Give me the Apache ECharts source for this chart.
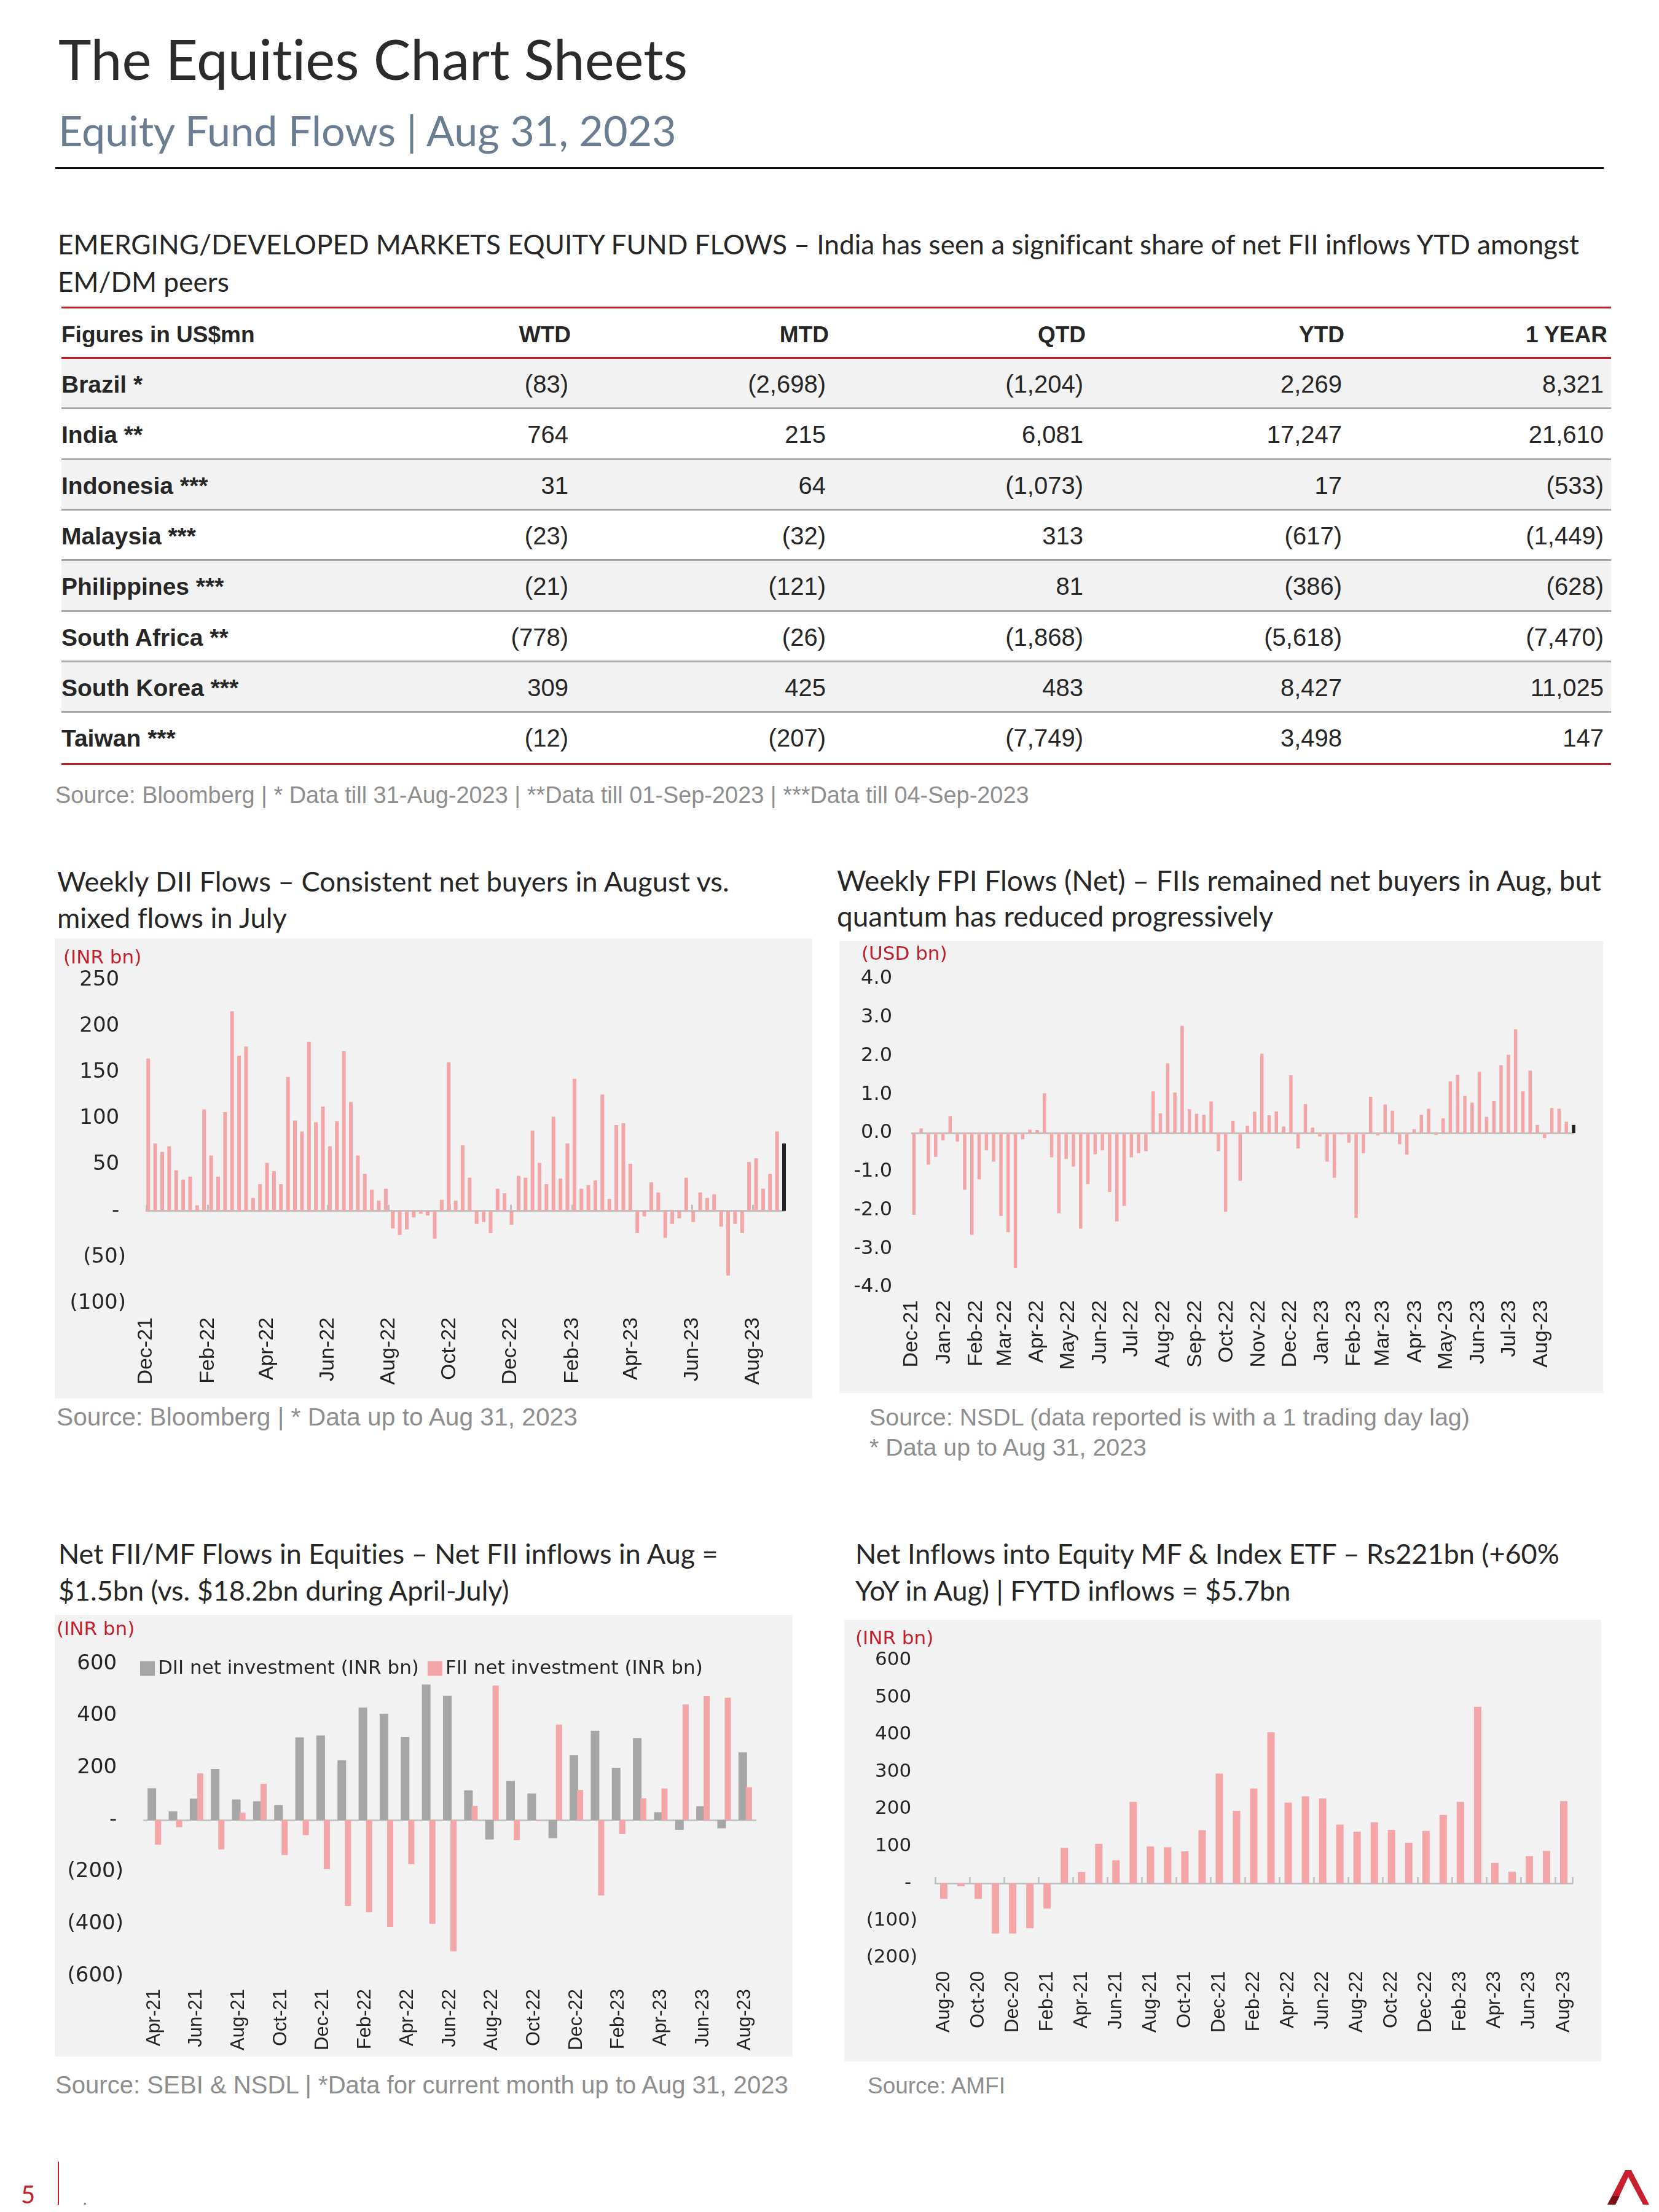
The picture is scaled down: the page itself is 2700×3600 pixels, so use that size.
<!DOCTYPE html>
<html><head><meta charset="utf-8">
<script src="https://cdn.jsdelivr.net/npm/echarts@6/dist/echarts.min.js"></script>
<style>
html,body{margin:0;padding:0;background:#fff;}
#page{position:relative;width:2700px;height:3600px;overflow:hidden;background:#fff;}
.t{position:absolute;white-space:nowrap;line-height:1;margin:0;padding:0;font-variant-ligatures:none;}
.box{position:absolute;}
.chart{position:absolute;background:#F2F2F2;}
</style></head><body><div id="page">
<div class="box" style="left:90px;top:272px;width:2520px;height:3px;background:#111"></div>
<div class="chart" id="c1" style="left:89px;top:1527px;width:1233px;height:749px"></div>
<div class="chart" id="c2" style="left:1366px;top:1531px;width:1243px;height:736px"></div>
<div class="chart" id="c3" style="left:89px;top:2628px;width:1201px;height:719px"></div>
<div class="chart" id="c4" style="left:1374px;top:2636px;width:1232px;height:719px"></div>
<div class="box" style="left:94px;top:3518px;width:2px;height:70px;background:#C41E2A"></div>
<svg style="position:absolute;left:2614px;top:3530px" width="72" height="60" viewBox="0 0 72 60">
<polygon points="2,58 31,2 41,2 70,58 60,58 36,13 15,58" fill="#C8202F"/>
<polygon points="2,58 15,58 22,44 10,44" fill="#7A1018"/>
</svg>
</div>
<script>
// ---------------- DATA ----------------
const tableCountries = ['Brazil *','India **','Indonesia ***','Malaysia ***','Philippines ***','South Africa **','South Korea ***','Taiwan ***'];
const tableColumns = ['WTD','MTD','QTD','YTD','1 YEAR'];
const wtd = [-83, 764, 31, -23, -21, -778, 309, -12];
const mtd = [-2698, 215, 64, -32, -121, -26, 425, -207];
const qtd = [-1204, 6081, -1073, 313, 81, -1868, 483, -7749];
const ytd = [2269, 17247, 17, -617, -386, -5618, 8427, 3498];
const oneYear = [8321, 21610, -533, -1449, -628, -7470, 11025, 147];

// Weekly DII flows (INR bn), weeks from 3-Dec-2021 to 1-Sep-2023
const diiWeekly = [165,73,64,70,44,34,37,6,110,60,37,107,216,168,178,14,29,52,43,29,
  145,98,86,183,96,113,70,97,173,118,60,40,23,11,24,-19,-26,-20,-7,-3,
  -5,-30,12,161,11,71,36,-14,-12,-24,24,19,-15,38,36,87,52,29,102,35,
  73,143,24,28,33,126,13,93,95,51,-24,-6,31,20,-29,-14,-8,36,-12,20,
  14,18,-17,-70,-14,-24,53,57,24,40,86,73];
// Weekly FPI flows (USD bn)
const fpiWeekly = [-2.12,0.12,-0.82,-0.62,-0.19,0.44,-0.22,-1.47,-2.64,-1.20,-0.45,-0.74,-2.15,-2.57,-3.50,-0.16,0.09,0.08,1.03,-0.63,
  -2.08,-0.67,-0.87,-2.48,-1.32,-0.55,-0.45,-1.53,-2.29,-1.89,-0.63,-0.52,-0.47,1.08,0.51,1.81,1.05,2.78,0.62,0.50,
  0.47,0.82,-0.47,-2.04,0.32,-1.24,0.19,0.55,2.06,0.46,0.56,0.17,1.50,-0.40,0.75,0.14,-0.09,-0.74,-1.16,-0.04,
  -0.25,-2.20,-0.52,0.94,-0.06,0.74,0.58,-0.29,-0.56,0.10,0.47,0.63,-0.05,0.38,1.34,1.51,0.96,0.79,1.59,0.42,
  0.83,1.76,2.03,2.69,1.08,1.62,0.21,-0.13,0.65,0.63,0.29,0.21];
// Monthly Apr-21 .. Aug-23 (INR bn)
const diiMonthly = [122,33,82,196,79,72,57,318,325,230,432,408,319,521,478,114,-75,150,102,-70,250,343,201,315,30,-38,53,-32,260];
const fiiMonthly = [-95,-28,179,-113,28,139,-135,-58,-189,-331,-355,-411,-170,-399,-505,54,517,-78,-3,367,115,-290,-54,83,121,444,477,470,126];
// Monthly Aug-20 .. Aug-23 net inflows into equity MF & index ETF (INR bn)
const mfMonthly = [-42,-8,-42,-135,-135,-121,-68,95,30,106,62,219,99,97,86,143,295,195,255,406,217,234,228,158,139,164,144,109,141,184,219,475,55,31,73,87,221];

const MON = ['Jan','Feb','Mar','Apr','May','Jun','Jul','Aug','Sep','Oct','Nov','Dec'];
const DAY = 86400000;
const axisStartDate = new Date(2021, 11, 1);    // axis starts 1-Dec-2021
const axisEndDate = new Date(2023, 8, 1);       // last weekly bar 1-Sep-2023
function dayOffset(d){ return Math.round((d.getTime() - axisStartDate.getTime()) / DAY); }
function monthSeq(y, m, n){ const out=[]; for(let i=0;i<n;i++){ const k=m+i; out.push(MON[k%12]+'-'+String(y+Math.floor(k/12)).slice(2)); } return out; }
function weekSeq(y, m, d, n){ const out=[]; for(let i=0;i<n;i++) out.push(dayOffset(new Date(y, m, d+7*i))); return out; }
function monthStarts(y, m, n, step){ const out=[]; for(let i=0;i<n;i++) out.push(dayOffset(new Date(y, m+i*step, 1))); return out; }

const weeks = weekSeq(2021, 11, 3, 92);              // day offsets of weekly bars
const diiTickDays = monthStarts(2021, 11, 11, 2);    // Dec-21, Feb-22 ... Aug-23
const fpiTickDays = monthStarts(2021, 11, 21, 1);    // Dec-21 ... Aug-23
const fiiMonths = monthSeq(2021, 3, 29);             // Apr-21 ... Aug-23
const mfMonths = monthSeq(2020, 7, 37);              // Aug-20 ... Aug-23
const axisMaxDay = dayOffset(axisEndDate);

// ---------------- STYLE ----------------
const PINK = '#F4A5A8', GREY = '#A6A6A6', DARK = '#222222', RED = '#C41E2A', AXIS = '#BFBFBF';
const page = document.getElementById('page');

function fmtNum(v){ return Math.abs(v).toLocaleString('en-US'); }
function acctTable(v){ return v < 0 ? '(' + fmtNum(v) + ')' : fmtNum(v); }
function acctAxis(v){ if (v === 0) return '-\u2008'; return v < 0 ? '(' + fmtNum(v) + ')' : fmtNum(v) + '\u2008'; }
function monFmt(v){ const d = new Date(axisStartDate.getFullYear(), axisStartDate.getMonth(), axisStartDate.getDate() + Math.round(v)); return MON[d.getMonth()] + '-' + String(d.getFullYear()).slice(2); }

function placeText(spec){
  const size0 = spec.size || 100;
  const els = spec.lines.map(function(line){
    const d = document.createElement('div');
    d.className = 't';
    d.style.fontFamily = spec.family;
    d.style.fontWeight = spec.weight || 400;
    d.style.color = spec.color;
    d.style.fontSize = size0 + 'px';
    d.textContent = line;
    if (spec.right != null) d.style.right = (2700 - spec.right) + 'px'; else d.style.left = spec.x + 'px';
    d.style.top = '0px';
    page.appendChild(d);
    return d;
  });
  if (spec.fitW) {
    const w = els[0].getBoundingClientRect().width;
    const size = size0 * spec.fitW / w;
    els.forEach(function(e){ e.style.fontSize = size + 'px'; });
  }
  els.forEach(function(e, i){
    const m = document.createElement('span');
    m.style.display = 'inline-block'; m.style.width = '0'; m.style.height = '0'; m.style.verticalAlign = 'baseline';
    e.appendChild(m);
    e.style.top = (spec.base[i] - m.offsetTop) + 'px';
  });
}
function box(x, y, w, h, c){ const d = document.createElement('div'); d.className='box'; d.style.cssText += 'left:'+x+'px;top:'+y+'px;width:'+w+'px;height:'+h+'px;background:'+c; page.appendChild(d); }

// ---------------- HEADER TEXT ----------------
const TF = 'Lato', AF = 'Liberation Sans', SRC = '#8E8E8E', TXT = '#262626';
[
  {lines:['The Equities Chart Sheets'], x:95, base:[130], fitW:1024, family:TF, color:'#2B2B2B'},
  {lines:['Equity Fund Flows | Aug 31, 2023'], x:95, base:[238], fitW:1006, family:TF, color:'#6A7D91'},
  {lines:['EMERGING/DEVELOPED MARKETS EQUITY FUND FLOWS \u2013 India has seen a significant share of net FII inflows YTD amongst','EM/DM peers'], x:94, base:[414,475], fitW:2477, family:TF, color:TXT},
  {lines:['Source: Bloomberg | * Data till 31-Aug-2023 | **Data till 01-Sep-2023 | ***Data till 04-Sep-2023'], x:90, base:[1307], fitW:1585, family:AF, color:SRC},
  {lines:['Weekly DII Flows \u2013 Consistent net buyers in August vs.','mixed flows in July'], x:93, base:[1451,1510], fitW:1094, family:TF, color:TXT},
  {lines:['Weekly FPI Flows (Net) \u2013 FIIs remained net buyers in Aug, but','quantum has reduced progressively'], x:1362, base:[1450,1508], fitW:1244, family:TF, color:TXT},
  {lines:['Source: Bloomberg | * Data up to Aug 31, 2023'], x:92, base:[2320], fitW:848, family:AF, color:SRC},
  {lines:['Source: NSDL (data reported is with a 1 trading day lag)','* Data up to Aug 31, 2023'], x:1415, base:[2320,2369], fitW:977, family:AF, color:SRC},
  {lines:['Net FII/MF Flows in Equities \u2013 Net FII inflows in Aug =','$1.5bn (vs. $18.2bn during April-July)'], x:95, base:[2545,2605], fitW:1074, family:TF, color:TXT},
  {lines:['Net Inflows into Equity MF & Index ETF \u2013 Rs221bn (+60%','YoY in Aug) | FYTD inflows = $5.7bn'], x:1392, base:[2545,2605], fitW:1146, family:TF, color:TXT},
  {lines:['Source: SEBI & NSDL | *Data for current month up to Aug 31, 2023'], x:90, base:[3407], fitW:1193, family:AF, color:SRC},
  {lines:['Source: AMFI'], x:1412, base:[3407], fitW:224, family:AF, color:SRC},
  {lines:['5'], x:34, base:[3586], size:40, family:TF, color:RED},
  {lines:['.'], x:134, base:[3588], size:30, family:AF, color:'#777'}
].forEach(placeText);

// ---------------- TABLE ----------------
const rowH = 82.3, rowTop = 584, firstBase = 639;
const valRights = [925, 1344, 1763, 2184, 2610];
const headRights = [929, 1349, 1767, 2188, 2616];
const colData = [wtd, mtd, qtd, ytd, oneYear];
for (let i = 0; i < tableCountries.length; i++) {
  if (i % 2 === 0) box(100, rowTop + i*rowH, 2522, rowH - 2, '#F2F2F2');
  if (i < tableCountries.length - 1) box(100, rowTop + (i+1)*rowH - 3, 2522, 3, '#A6A6A6');
}
box(100, 499, 2522, 3, RED);
box(100, 581, 2522, 3, RED);
box(100, 1242, 2522, 3, RED);
placeText({lines:['Figures in US$mn'], x:100, base:[557], size:37, family:AF, weight:700, color:TXT});
tableColumns.forEach(function(c, j){ placeText({lines:[c], right:headRights[j], base:[557], size:37, family:AF, weight:700, color:TXT}); });
tableCountries.forEach(function(c, i){
  const b = firstBase + i*rowH;
  placeText({lines:[c], x:100, base:[b], size:39, family:AF, weight:700, color:TXT});
  colData.forEach(function(arr, j){ placeText({lines:[acctTable(arr[i])], right:valRights[j], base:[b], size:40, family:AF, color:TXT}); });
});

// ---------------- CHARTS ----------------
function unitLabel(text, left, top){ return {type:'text', left:left, top:top, style:{text:text, fill:RED, font:'31px "DejaVu Sans"'}}; }
function weeklyBars(vals, lastColor){
  return vals.map(function(v, i){
    const item = {value:[weeks[i], v]};
    if (i === vals.length - 1) item.itemStyle = {color:lastColor};
    return item;
  });
}
const yLab = function(size, margin, fmt){ return {margin:margin, fontFamily:'DejaVu Sans', fontSize:size, color:'#262626', formatter:fmt}; };
const noLine = {show:false};

function safeInit(id, option){
  try { echarts.init(document.getElementById(id)).setOption(option); } catch (e) { console.error(e); }
}

// Chart 1: weekly DII
safeInit('c1', {
  animation:false,
  grid:{left:149, right:46, top:68, bottom:155},
  xAxis:[
    {type:'value', min:0, max:axisMaxDay, axisLine:{show:false, onZero:false}, axisTick:{show:false}, splitLine:noLine,
     axisLabel:{customValues:diiTickDays, showMinLabel:true, showMaxLabel:true, rotate:90, margin:23, fontFamily:AF, fontSize:34, color:DARK, formatter:monFmt}},
    {type:'value', min:0, max:axisMaxDay, axisLine:{show:true, onZero:true, lineStyle:{color:AXIS, width:3}},
     axisTick:{show:true, customValues:diiTickDays, length:10, lineStyle:{color:AXIS, width:3}}, axisLabel:{show:false}, splitLine:noLine}
  ],
  yAxis:{type:'value', min:-100, max:250, interval:50, axisLine:noLine, axisTick:noLine, splitLine:noLine,
    axisLabel:yLab(34, 33, acctAxis)},
  series:[{type:'bar', xAxisIndex:0, barWidth:6, itemStyle:{color:PINK}, data:weeklyBars(diiWeekly, DARK)}],
  graphic:[unitLabel('(INR bn)', 14, 17)]
});

// Chart 2: weekly FPI
safeInit('c2', {
  animation:false,
  grid:{left:118, right:48, top:62, bottom:172},
  xAxis:[
    {type:'value', min:0, max:axisMaxDay, axisLine:{show:false, onZero:false}, axisTick:{show:false}, splitLine:noLine,
     axisLabel:{customValues:fpiTickDays, showMinLabel:true, showMaxLabel:true, rotate:90, margin:21, fontFamily:AF, fontSize:34, color:DARK, formatter:monFmt}},
    {type:'value', min:0, max:axisMaxDay, axisLine:{show:true, onZero:true, lineStyle:{color:AXIS, width:3}},
     axisTick:{show:false}, axisLabel:{show:false}, splitLine:noLine}
  ],
  yAxis:{type:'value', min:-4, max:4, interval:1, axisLine:noLine, axisTick:noLine, splitLine:noLine,
    axisLabel:yLab(32, 32, function(v){ return v.toFixed(1); })},
  series:[{type:'bar', xAxisIndex:0, barWidth:5.5, itemStyle:{color:PINK}, data:weeklyBars(fpiWeekly, DARK)}],
  graphic:[unitLabel('(USD bn)', 36, 7)]
});

// Chart 3: monthly DII vs FII
safeInit('c3', {
  animation:false,
  grid:{left:145, right:60, top:80, bottom:131},
  legend:{left:134, top:67, itemWidth:24, itemHeight:24, itemGap:14, icon:'rect',
    textStyle:{fontFamily:'DejaVu Sans', fontSize:31, color:TXT, lineHeight:24},
    data:['DII net investment (INR bn)','FII net investment (INR bn)']},
  xAxis:[
    {type:'category', data:fiiMonths, axisLine:{show:false, onZero:false}, axisTick:{show:false}, splitLine:noLine,
     axisLabel:{interval:1, rotate:90, margin:21, fontFamily:AF, fontSize:31, color:DARK}},
    {type:'category', data:fiiMonths, axisLine:{show:true, onZero:true, lineStyle:{color:AXIS, width:2.5}},
     axisTick:{show:false}, axisLabel:{show:false}, splitLine:noLine}
  ],
  yAxis:{type:'value', min:-600, max:600, interval:200, axisLine:noLine, axisTick:noLine, splitLine:noLine,
    axisLabel:yLab(34, 33, acctAxis)},
  series:[
    {name:'DII net investment (INR bn)', type:'bar', xAxisIndex:0, barWidth:14, barGap:'-14%', itemStyle:{color:GREY}, data:diiMonthly},
    {name:'FII net investment (INR bn)', type:'bar', xAxisIndex:0, barWidth:10, barGap:'-14%', itemStyle:{color:PINK}, data:fiiMonthly}
  ],
  graphic:[unitLabel('(INR bn)', 3, 9)]
});

// Chart 4: monthly MF inflows
safeInit('c4', {
  animation:false,
  grid:{left:148, right:47, top:66, bottom:169},
  xAxis:[
    {type:'category', data:mfMonths, axisLine:{show:false, onZero:false}, axisTick:{show:false}, splitLine:noLine,
     axisLabel:{interval:1, rotate:90, margin:22, fontFamily:AF, fontSize:31, color:DARK}},
    {type:'category', data:mfMonths, axisLine:{show:true, onZero:true, lineStyle:{color:AXIS, width:2.5}},
     axisTick:{show:true, interval:1, length:10, lineStyle:{color:AXIS, width:2.5}}, axisLabel:{show:false}, splitLine:noLine}
  ],
  yAxis:{type:'value', min:-200, max:600, interval:100, axisLine:noLine, axisTick:noLine, splitLine:noLine,
    axisLabel:yLab(31, 29, acctAxis)},
  series:[{type:'bar', xAxisIndex:0, barWidth:12, itemStyle:{color:PINK}, data:mfMonthly}],
  graphic:[unitLabel('(INR bn)', 18, 16)]
});
</script>
</body></html>
